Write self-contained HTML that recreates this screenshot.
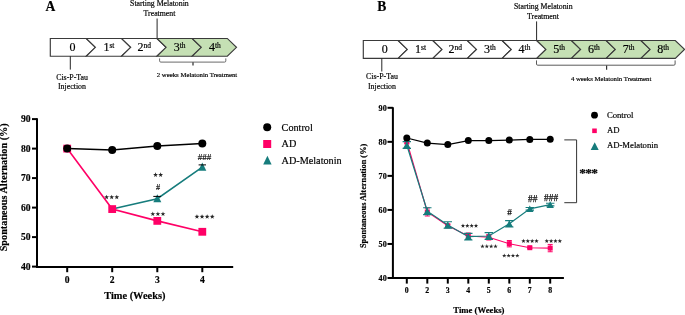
<!DOCTYPE html>
<html><head><meta charset="utf-8"><style>
html,body{margin:0;padding:0;background:#fff;}
body{width:685px;height:315px;overflow:hidden;}
svg{display:block;font-family:"Liberation Serif",serif;-webkit-font-smoothing:antialiased;}
body{will-change:transform;}
svg{opacity:0.999;}
.hs{stroke:#111;stroke-width:0.25px;}
text{stroke:#000;stroke-width:0.18px;}
</style></head><body>
<svg width="685" height="315" viewBox="0 0 685 315">
<text x="45.5" y="10.9" font-size="13.6" font-weight="bold">A</text>
<text x="159.4" y="5.8" font-size="7.8" text-anchor="middle">Starting Melatonin</text>
<text x="159.5" y="15.6" font-size="7.8" text-anchor="middle">Treatment</text>
<line x1="157.1" y1="18.5" x2="157.1" y2="38.5" stroke="#262626" stroke-width="1"/>
<polygon points="50.30,38.45 86.20,38.45 95.40,47.35 86.20,56.25 50.30,56.25" fill="#FFFFFF" stroke="#3a3a3a" stroke-width="1.15" stroke-linejoin="miter"/>
<polygon points="86.20,38.45 121.50,38.45 130.70,47.35 121.50,56.25 86.20,56.25 95.40,47.35" fill="#FFFFFF" stroke="#3a3a3a" stroke-width="1.15" stroke-linejoin="miter"/>
<polygon points="121.50,38.45 156.90,38.45 166.10,47.35 156.90,56.25 121.50,56.25 130.70,47.35" fill="#FFFFFF" stroke="#3a3a3a" stroke-width="1.15" stroke-linejoin="miter"/>
<polygon points="156.90,38.45 192.10,38.45 201.30,47.35 192.10,56.25 156.90,56.25 166.10,47.35" fill="#C5E0B4" stroke="#3a3a3a" stroke-width="1.15" stroke-linejoin="miter"/>
<polygon points="192.10,38.45 227.30,38.45 236.50,47.35 227.30,56.25 192.10,56.25 201.30,47.35" fill="#C5E0B4" stroke="#3a3a3a" stroke-width="1.15" stroke-linejoin="miter"/>
<text x="72.40" y="51.31" font-size="12" text-anchor="middle" class="tl">0</text>
<text x="108.95" y="51.31" font-size="12" text-anchor="middle" class="tl">1<tspan font-size="7.5" dy="-3.24">st</tspan></text>
<text x="144.30" y="51.31" font-size="12" text-anchor="middle" class="tl">2<tspan font-size="7.5" dy="-3.24">nd</tspan></text>
<text x="179.60" y="51.31" font-size="12" text-anchor="middle" class="tl">3<tspan font-size="7.5" dy="-3.24">th</tspan></text>
<text x="214.80" y="51.31" font-size="12" text-anchor="middle" class="tl">4<tspan font-size="7.5" dy="-3.24">th</tspan></text>
<line x1="70.3" y1="56.1" x2="70.3" y2="69.6" stroke="#262626" stroke-width="1"/>
<text x="72.1" y="79.8" font-size="7.9" text-anchor="middle">Cis-P-Tau</text>
<text x="72.0" y="89.3" font-size="7.9" text-anchor="middle">Injection</text>
<path d="M159.6,58.4 L159.6,60.9 Q159.6,62.1 160.8,62.1 L224.6,62.1 Q225.8,62.1 225.8,60.9 L225.8,58.4" fill="none" stroke="#6a6a6a" stroke-width="1"/>
<path d="M193,62.3 L193,65.6" fill="none" stroke="#3a3a3a" stroke-width="1.3"/>
<text x="197" y="77.3" font-size="6.75" text-anchor="middle">2 weeks Melatonin Treatment</text>
<text x="377.3" y="10.9" font-size="13.6" font-weight="bold">B</text>
<text x="543.3" y="8.9" font-size="7.8" text-anchor="middle">Starting Melatonin</text>
<text x="543.0" y="18.9" font-size="7.8" text-anchor="middle">Treatment</text>
<line x1="536.6" y1="21.4" x2="536.6" y2="40.5" stroke="#262626" stroke-width="1"/>
<polygon points="363.30,40.50 398.10,40.50 407.30,49.40 398.10,58.30 363.30,58.30" fill="#FFFFFF" stroke="#3a3a3a" stroke-width="1.15" stroke-linejoin="miter"/>
<polygon points="398.10,40.50 432.80,40.50 442.00,49.40 432.80,58.30 398.10,58.30 407.30,49.40" fill="#FFFFFF" stroke="#3a3a3a" stroke-width="1.15" stroke-linejoin="miter"/>
<polygon points="432.80,40.50 467.30,40.50 476.50,49.40 467.30,58.30 432.80,58.30 442.00,49.40" fill="#FFFFFF" stroke="#3a3a3a" stroke-width="1.15" stroke-linejoin="miter"/>
<polygon points="467.30,40.50 502.10,40.50 511.30,49.40 502.10,58.30 467.30,58.30 476.50,49.40" fill="#FFFFFF" stroke="#3a3a3a" stroke-width="1.15" stroke-linejoin="miter"/>
<polygon points="502.10,40.50 536.70,40.50 545.90,49.40 536.70,58.30 502.10,58.30 511.30,49.40" fill="#FFFFFF" stroke="#3a3a3a" stroke-width="1.15" stroke-linejoin="miter"/>
<polygon points="536.70,40.50 571.40,40.50 580.60,49.40 571.40,58.30 536.70,58.30 545.90,49.40" fill="#C5E0B4" stroke="#3a3a3a" stroke-width="1.15" stroke-linejoin="miter"/>
<polygon points="571.40,40.50 606.10,40.50 615.30,49.40 606.10,58.30 571.40,58.30 580.60,49.40" fill="#C5E0B4" stroke="#3a3a3a" stroke-width="1.15" stroke-linejoin="miter"/>
<polygon points="606.10,40.50 640.90,40.50 650.10,49.40 640.90,58.30 606.10,58.30 615.30,49.40" fill="#C5E0B4" stroke="#3a3a3a" stroke-width="1.15" stroke-linejoin="miter"/>
<polygon points="640.90,40.50 675.30,40.50 684.50,49.40 675.30,58.30 640.90,58.30 650.10,49.40" fill="#C5E0B4" stroke="#3a3a3a" stroke-width="1.15" stroke-linejoin="miter"/>
<text x="384.85" y="53.36" font-size="12" text-anchor="middle" class="tl">0</text>
<text x="420.55" y="53.36" font-size="12" text-anchor="middle" class="tl">1<tspan font-size="7.5" dy="-3.24">st</tspan></text>
<text x="455.15" y="53.36" font-size="12" text-anchor="middle" class="tl">2<tspan font-size="7.5" dy="-3.24">nd</tspan></text>
<text x="489.80" y="53.36" font-size="12" text-anchor="middle" class="tl">3<tspan font-size="7.5" dy="-3.24">th</tspan></text>
<text x="524.50" y="53.36" font-size="12" text-anchor="middle" class="tl">4<tspan font-size="7.5" dy="-3.24">th</tspan></text>
<text x="559.15" y="53.36" font-size="12" text-anchor="middle" class="tl">5<tspan font-size="7.5" dy="-3.24">th</tspan></text>
<text x="593.85" y="53.36" font-size="12" text-anchor="middle" class="tl">6<tspan font-size="7.5" dy="-3.24">th</tspan></text>
<text x="628.60" y="53.36" font-size="12" text-anchor="middle" class="tl">7<tspan font-size="7.5" dy="-3.24">th</tspan></text>
<text x="663.20" y="53.36" font-size="12" text-anchor="middle" class="tl">8<tspan font-size="7.5" dy="-3.24">th</tspan></text>
<line x1="381.8" y1="58.3" x2="381.8" y2="71.5" stroke="#262626" stroke-width="1"/>
<text x="382" y="79.4" font-size="7.9" text-anchor="middle">Cis-P-Tau</text>
<text x="382" y="88.8" font-size="7.9" text-anchor="middle">Injection</text>
<path d="M536.5,60.4 L536.5,64.0 Q536.5,65.2 537.7,65.2 L673.9,65.2 Q675.1,65.2 675.1,64.0 L675.1,60.4" fill="none" stroke="#5a5a5a" stroke-width="1"/>
<path d="M606.6,65.4 L606.6,69.8" fill="none" stroke="#333" stroke-width="1.2"/>
<text x="611.1" y="80.9" font-size="6.75" text-anchor="middle">4 weeks Melatonin Treatment</text>
<path d="M37,118.2 L37,266.9 L233.2,266.9" fill="none" stroke="#000" stroke-width="2"/>
<line x1="32" y1="266.60" x2="37" y2="266.60" stroke="#000" stroke-width="2"/>
<text x="30.5" y="269.90" font-size="9.6" font-weight="bold" text-anchor="end">40</text>
<line x1="32" y1="237.10" x2="37" y2="237.10" stroke="#000" stroke-width="2"/>
<text x="30.5" y="240.40" font-size="9.6" font-weight="bold" text-anchor="end">50</text>
<line x1="32" y1="207.60" x2="37" y2="207.60" stroke="#000" stroke-width="2"/>
<text x="30.5" y="210.90" font-size="9.6" font-weight="bold" text-anchor="end">60</text>
<line x1="32" y1="178.10" x2="37" y2="178.10" stroke="#000" stroke-width="2"/>
<text x="30.5" y="181.40" font-size="9.6" font-weight="bold" text-anchor="end">70</text>
<line x1="32" y1="148.60" x2="37" y2="148.60" stroke="#000" stroke-width="2"/>
<text x="30.5" y="151.90" font-size="9.6" font-weight="bold" text-anchor="end">80</text>
<line x1="32" y1="119.10" x2="37" y2="119.10" stroke="#000" stroke-width="2"/>
<text x="30.5" y="122.40" font-size="9.6" font-weight="bold" text-anchor="end">90</text>
<line x1="67.2" y1="266.9" x2="67.2" y2="272.2" stroke="#000" stroke-width="2"/>
<text x="67.2" y="282.5" font-size="9.6" font-weight="bold" text-anchor="middle">0</text>
<line x1="112.2" y1="266.9" x2="112.2" y2="272.2" stroke="#000" stroke-width="2"/>
<text x="112.2" y="282.5" font-size="9.6" font-weight="bold" text-anchor="middle">2</text>
<line x1="157.3" y1="266.9" x2="157.3" y2="272.2" stroke="#000" stroke-width="2"/>
<text x="157.3" y="282.5" font-size="9.6" font-weight="bold" text-anchor="middle">3</text>
<line x1="202.3" y1="266.9" x2="202.3" y2="272.2" stroke="#000" stroke-width="2"/>
<text x="202.3" y="282.5" font-size="9.6" font-weight="bold" text-anchor="middle">4</text>
<text x="134.8" y="298.9" font-size="10.4" font-weight="bold" text-anchor="middle">Time (Weeks)</text>
<text transform="translate(7.2,187.3) rotate(-90)" x="0" y="0" font-size="10.25" font-weight="bold" text-anchor="middle">Spontaneous Alternation (%)</text>
<polyline points="67.2,148.60 112.2,209.08 157.3,220.88 202.3,231.79" fill="none" stroke="#FF0066" stroke-width="1.6"/>
<polyline points="112.2,209.08 157.3,198.75 202.3,167.19" fill="none" stroke="#167C7C" stroke-width="1.6"/>
<polyline points="67.2,148.60 112.2,150.08 157.3,145.94 202.3,143.59" fill="none" stroke="#000" stroke-width="1.5"/>
<rect x="63.30" y="144.70" width="7.8" height="7.8" fill="#FF0066"/>
<rect x="108.30" y="205.18" width="7.8" height="7.8" fill="#FF0066"/>
<rect x="153.40" y="216.98" width="7.8" height="7.8" fill="#FF0066"/>
<rect x="198.40" y="227.89" width="7.8" height="7.8" fill="#FF0066"/>
<polygon points="153.30,202.35 161.30,202.35 157.30,194.15" fill="#167C7C"/>
<polygon points="198.30,170.78 206.30,170.78 202.30,162.59" fill="#167C7C"/>
<line x1="153.3" y1="196.4" x2="160.9" y2="196.4" stroke="#000" stroke-width="1"/>
<line x1="198.6" y1="164.9" x2="206" y2="164.9" stroke="#000" stroke-width="1"/>
<circle cx="67.20" cy="148.60" r="4" fill="#000"/>
<circle cx="112.20" cy="150.08" r="4" fill="#000"/>
<circle cx="157.30" cy="145.94" r="4" fill="#000"/>
<circle cx="202.30" cy="143.59" r="4" fill="#000"/>
<polygon points="106.60,194.65 107.20,196.37 109.03,196.41 107.57,197.52 108.10,199.26 106.60,198.22 105.10,199.26 105.63,197.52 104.17,196.41 106.00,196.37" fill="#262626"/>
<polygon points="111.70,194.65 112.30,196.37 114.13,196.41 112.67,197.52 113.20,199.26 111.70,198.22 110.20,199.26 110.73,197.52 109.27,196.41 111.10,196.37" fill="#262626"/>
<polygon points="116.80,194.65 117.40,196.37 119.23,196.41 117.77,197.52 118.30,199.26 116.80,198.22 115.30,199.26 115.83,197.52 114.37,196.41 116.20,196.37" fill="#262626"/>
<polygon points="155.55,172.35 156.15,174.07 157.98,174.11 156.52,175.22 157.05,176.96 155.55,175.92 154.05,176.96 154.58,175.22 153.12,174.11 154.95,174.07" fill="#262626"/>
<polygon points="160.65,172.35 161.25,174.07 163.08,174.11 161.62,175.22 162.15,176.96 160.65,175.92 159.15,176.96 159.68,175.22 158.22,174.11 160.05,174.07" fill="#262626"/>
<text x="158.0" y="190.4" font-size="8.2" text-anchor="middle" fill="#1a1a1a">#</text>
<polygon points="152.80,211.45 153.40,213.17 155.23,213.21 153.77,214.32 154.30,216.06 152.80,215.02 151.30,216.06 151.83,214.32 150.37,213.21 152.20,213.17" fill="#262626"/>
<polygon points="157.90,211.45 158.50,213.17 160.33,213.21 158.87,214.32 159.40,216.06 157.90,215.02 156.40,216.06 156.93,214.32 155.47,213.21 157.30,213.17" fill="#262626"/>
<polygon points="163.00,211.45 163.60,213.17 165.43,213.21 163.97,214.32 164.50,216.06 163.00,215.02 161.50,216.06 162.03,214.32 160.57,213.21 162.40,213.17" fill="#262626"/>
<text x="204.6" y="160" font-size="9" text-anchor="middle" fill="#1a1a1a">###</text>
<polygon points="196.95,214.15 197.55,215.87 199.38,215.91 197.92,217.02 198.45,218.76 196.95,217.72 195.45,218.76 195.98,217.02 194.52,215.91 196.35,215.87" fill="#262626"/>
<polygon points="202.05,214.15 202.65,215.87 204.48,215.91 203.02,217.02 203.55,218.76 202.05,217.72 200.55,218.76 201.08,217.02 199.62,215.91 201.45,215.87" fill="#262626"/>
<polygon points="207.15,214.15 207.75,215.87 209.58,215.91 208.12,217.02 208.65,218.76 207.15,217.72 205.65,218.76 206.18,217.02 204.72,215.91 206.55,215.87" fill="#262626"/>
<polygon points="212.25,214.15 212.85,215.87 214.68,215.91 213.22,217.02 213.75,218.76 212.25,217.72 210.75,218.76 211.28,217.02 209.82,215.91 211.65,215.87" fill="#262626"/>
<circle cx="267.20" cy="127.20" r="4" fill="#000"/>
<text x="281.6" y="130.7" font-size="10.2">Control</text>
<rect x="263.20" y="140.00" width="8" height="8" fill="#FF0066"/>
<text x="281.6" y="147.3" font-size="10.2">AD</text>
<polygon points="263.20,164.50 271.60,164.50 267.40,155.70" fill="#167C7C"/>
<text x="281.6" y="163.6" font-size="10.2">AD-Melatonin</text>
<path d="M392.9,107.2 L392.9,278 L563.9,278" fill="none" stroke="#000" stroke-width="2"/>
<line x1="387.5" y1="278.00" x2="392.9" y2="278.00" stroke="#000" stroke-width="2"/>
<text x="386.7" y="280.80" font-size="8.1" font-weight="bold" text-anchor="end">40</text>
<line x1="387.5" y1="243.96" x2="392.9" y2="243.96" stroke="#000" stroke-width="2"/>
<text x="386.7" y="246.76" font-size="8.1" font-weight="bold" text-anchor="end">50</text>
<line x1="387.5" y1="209.92" x2="392.9" y2="209.92" stroke="#000" stroke-width="2"/>
<text x="386.7" y="212.72" font-size="8.1" font-weight="bold" text-anchor="end">60</text>
<line x1="387.5" y1="175.88" x2="392.9" y2="175.88" stroke="#000" stroke-width="2"/>
<text x="386.7" y="178.68" font-size="8.1" font-weight="bold" text-anchor="end">70</text>
<line x1="387.5" y1="141.84" x2="392.9" y2="141.84" stroke="#000" stroke-width="2"/>
<text x="386.7" y="144.64" font-size="8.1" font-weight="bold" text-anchor="end">80</text>
<line x1="387.5" y1="107.80" x2="392.9" y2="107.80" stroke="#000" stroke-width="2"/>
<text x="386.7" y="110.60" font-size="8.1" font-weight="bold" text-anchor="end">90</text>
<line x1="406.8" y1="278" x2="406.8" y2="283.6" stroke="#000" stroke-width="2"/>
<text x="406.8" y="292.7" font-size="7.8" font-weight="bold" text-anchor="middle">0</text>
<line x1="427.3" y1="278" x2="427.3" y2="283.6" stroke="#000" stroke-width="2"/>
<text x="427.3" y="292.7" font-size="7.8" font-weight="bold" text-anchor="middle">2</text>
<line x1="447.8" y1="278" x2="447.8" y2="283.6" stroke="#000" stroke-width="2"/>
<text x="447.8" y="292.7" font-size="7.8" font-weight="bold" text-anchor="middle">3</text>
<line x1="468.3" y1="278" x2="468.3" y2="283.6" stroke="#000" stroke-width="2"/>
<text x="468.3" y="292.7" font-size="7.8" font-weight="bold" text-anchor="middle">4</text>
<line x1="488.8" y1="278" x2="488.8" y2="283.6" stroke="#000" stroke-width="2"/>
<text x="488.8" y="292.7" font-size="7.8" font-weight="bold" text-anchor="middle">5</text>
<line x1="509.3" y1="278" x2="509.3" y2="283.6" stroke="#000" stroke-width="2"/>
<text x="509.3" y="292.7" font-size="7.8" font-weight="bold" text-anchor="middle">6</text>
<line x1="529.8" y1="278" x2="529.8" y2="283.6" stroke="#000" stroke-width="2"/>
<text x="529.8" y="292.7" font-size="7.8" font-weight="bold" text-anchor="middle">7</text>
<line x1="550.2" y1="278" x2="550.2" y2="283.6" stroke="#000" stroke-width="2"/>
<text x="550.2" y="292.7" font-size="7.8" font-weight="bold" text-anchor="middle">8</text>
<text x="478.9" y="312.7" font-size="8.7" font-weight="bold" text-anchor="middle">Time (Weeks)</text>
<text transform="translate(366,195.9) rotate(-90)" x="0" y="0" font-size="8.36" font-weight="bold" text-anchor="middle">Spontaneous Alternation (%)</text>
<polyline points="406.8,141.50 427.3,212.00 447.8,225.80 468.3,236.00 488.8,237.30 509.3,243.70 529.8,247.70 550.2,248.10" fill="none" stroke="#FF0066" stroke-width="1.15"/>
<path d="M406.8,139.00 L406.8,144.00 M404.3,139.00 L409.3,139.00 M404.3,144.00 L409.3,144.00" stroke="#FF0066" stroke-width="1" fill="none"/>
<rect x="404.30" y="139.00" width="5.0" height="5.0" fill="#FF0066"/>
<path d="M427.3,208.00 L427.3,216.00 M424.8,208.00 L429.8,208.00 M424.8,216.00 L429.8,216.00" stroke="#FF0066" stroke-width="1" fill="none"/>
<rect x="424.80" y="209.50" width="5.0" height="5.0" fill="#FF0066"/>
<path d="M447.8,224.30 L447.8,227.30 M445.3,224.30 L450.3,224.30 M445.3,227.30 L450.3,227.30" stroke="#FF0066" stroke-width="1" fill="none"/>
<rect x="445.30" y="223.30" width="5.0" height="5.0" fill="#FF0066"/>
<path d="M468.3,233.00 L468.3,239.00 M465.8,233.00 L470.8,233.00 M465.8,239.00 L470.8,239.00" stroke="#FF0066" stroke-width="1" fill="none"/>
<rect x="465.80" y="233.50" width="5.0" height="5.0" fill="#FF0066"/>
<path d="M488.8,234.60 L488.8,240.00 M486.3,234.60 L491.3,234.60 M486.3,240.00 L491.3,240.00" stroke="#FF0066" stroke-width="1" fill="none"/>
<rect x="486.30" y="234.80" width="5.0" height="5.0" fill="#FF0066"/>
<path d="M509.3,240.50 L509.3,246.90 M506.8,240.50 L511.8,240.50 M506.8,246.90 L511.8,246.90" stroke="#FF0066" stroke-width="1" fill="none"/>
<rect x="506.80" y="241.20" width="5.0" height="5.0" fill="#FF0066"/>
<path d="M529.8,246.90 L529.8,248.50 M527.3,246.90 L532.3,246.90 M527.3,248.50 L532.3,248.50" stroke="#FF0066" stroke-width="1" fill="none"/>
<rect x="527.30" y="245.20" width="5.0" height="5.0" fill="#FF0066"/>
<path d="M550.2,244.45 L550.2,251.75 M547.7,244.45 L552.7,244.45 M547.7,251.75 L552.7,251.75" stroke="#FF0066" stroke-width="1" fill="none"/>
<rect x="547.70" y="245.60" width="5.0" height="5.0" fill="#FF0066"/>
<polyline points="406.8,145.00 427.3,211.20 447.8,225.00 468.3,236.70 488.8,236.00 509.3,223.80 529.8,208.80 550.2,204.60" fill="none" stroke="#167C7C" stroke-width="1.25"/>
<polygon points="403.10,148.30 410.50,148.30 406.80,141.70" fill="#167C7C"/>
<path d="M406.8,141.60 L406.8,148.40 M402.60,141.60 L411.00,141.60 M402.60,148.40 L411.00,148.40" stroke="#167C7C" stroke-width="1.1" fill="none"/>
<polygon points="423.60,214.50 431.00,214.50 427.30,207.90" fill="#167C7C"/>
<path d="M427.3,207.80 L427.3,214.60 M423.10,207.80 L431.50,207.80 M423.10,214.60 L431.50,214.60" stroke="#167C7C" stroke-width="1.1" fill="none"/>
<polygon points="444.10,228.30 451.50,228.30 447.80,221.70" fill="#167C7C"/>
<path d="M447.8,221.70 L447.8,228.30 M443.60,221.70 L452.00,221.70 M443.60,228.30 L452.00,228.30" stroke="#167C7C" stroke-width="1.1" fill="none"/>
<polygon points="464.60,240.00 472.00,240.00 468.30,233.40" fill="#167C7C"/>
<path d="M468.3,233.40 L468.3,240.00 M464.10,233.40 L472.50,233.40 M464.10,240.00 L472.50,240.00" stroke="#167C7C" stroke-width="1.1" fill="none"/>
<polygon points="485.10,239.30 492.50,239.30 488.80,232.70" fill="#167C7C"/>
<path d="M488.8,232.60 L488.8,239.40 M484.60,232.60 L493.00,232.60 M484.60,239.40 L493.00,239.40" stroke="#167C7C" stroke-width="1.1" fill="none"/>
<polygon points="505.60,227.10 513.00,227.10 509.30,220.50" fill="#167C7C"/>
<path d="M509.3,220.60 L509.3,227.00 M505.10,220.60 L513.50,220.60 M505.10,227.00 L513.50,227.00" stroke="#167C7C" stroke-width="1.1" fill="none"/>
<polygon points="526.10,212.10 533.50,212.10 529.80,205.50" fill="#167C7C"/>
<path d="M529.8,207.50 L529.8,210.10 M525.60,207.50 L534.00,207.50 M525.60,210.10 L534.00,210.10" stroke="#167C7C" stroke-width="1.1" fill="none"/>
<polygon points="546.50,207.90 553.90,207.90 550.20,201.30" fill="#167C7C"/>
<path d="M550.2,203.30 L550.2,205.90 M546.00,203.30 L554.40,203.30 M546.00,205.90 L554.40,205.90" stroke="#167C7C" stroke-width="1.1" fill="none"/>
<polyline points="406.8,138.00 427.3,143.10 447.8,144.60 468.3,140.60 488.8,140.60 509.3,140.10 529.8,139.40 550.2,139.30" fill="none" stroke="#000" stroke-width="1.25"/>
<circle cx="406.80" cy="138.00" r="3.5" fill="#000"/>
<circle cx="427.30" cy="143.10" r="3.5" fill="#000"/>
<circle cx="447.80" cy="144.60" r="3.5" fill="#000"/>
<circle cx="468.30" cy="140.60" r="3.5" fill="#000"/>
<circle cx="488.80" cy="140.60" r="3.5" fill="#000"/>
<circle cx="509.30" cy="140.10" r="3.5" fill="#000"/>
<circle cx="529.80" cy="139.40" r="3.5" fill="#000"/>
<circle cx="550.20" cy="139.30" r="3.5" fill="#000"/>
<polygon points="462.98,223.50 463.52,225.06 465.16,225.09 463.85,226.08 464.33,227.66 462.98,226.72 461.62,227.66 462.10,226.08 460.79,225.09 462.43,225.06" fill="#262626"/>
<polygon points="467.33,223.50 467.87,225.06 469.51,225.09 468.20,226.08 468.68,227.66 467.33,226.72 465.97,227.66 466.45,226.08 465.14,225.09 466.78,225.06" fill="#262626"/>
<polygon points="471.68,223.50 472.22,225.06 473.86,225.09 472.55,226.08 473.03,227.66 471.68,226.72 470.32,227.66 470.80,226.08 469.49,225.09 471.13,225.06" fill="#262626"/>
<polygon points="476.03,223.50 476.57,225.06 478.21,225.09 476.90,226.08 477.38,227.66 476.03,226.72 474.67,227.66 475.15,226.08 473.84,225.09 475.48,225.06" fill="#262626"/>
<polygon points="482.48,244.10 483.02,245.66 484.66,245.69 483.35,246.68 483.83,248.26 482.48,247.32 481.12,248.26 481.60,246.68 480.29,245.69 481.93,245.66" fill="#262626"/>
<polygon points="486.83,244.10 487.37,245.66 489.01,245.69 487.70,246.68 488.18,248.26 486.83,247.32 485.47,248.26 485.95,246.68 484.64,245.69 486.28,245.66" fill="#262626"/>
<polygon points="491.18,244.10 491.72,245.66 493.36,245.69 492.05,246.68 492.53,248.26 491.18,247.32 489.82,248.26 490.30,246.68 488.99,245.69 490.63,245.66" fill="#262626"/>
<polygon points="495.53,244.10 496.07,245.66 497.71,245.69 496.40,246.68 496.88,248.26 495.53,247.32 494.17,248.26 494.65,246.68 493.34,245.69 494.98,245.66" fill="#262626"/>
<polygon points="504.28,253.40 504.82,254.96 506.46,254.99 505.15,255.98 505.63,257.56 504.28,256.62 502.92,257.56 503.40,255.98 502.09,254.99 503.73,254.96" fill="#262626"/>
<polygon points="508.63,253.40 509.17,254.96 510.81,254.99 509.50,255.98 509.98,257.56 508.63,256.62 507.27,257.56 507.75,255.98 506.44,254.99 508.08,254.96" fill="#262626"/>
<polygon points="512.98,253.40 513.52,254.96 515.16,254.99 513.85,255.98 514.33,257.56 512.98,256.62 511.62,257.56 512.10,255.98 510.79,254.99 512.43,254.96" fill="#262626"/>
<polygon points="517.33,253.40 517.87,254.96 519.51,254.99 518.20,255.98 518.68,257.56 517.33,256.62 515.97,257.56 516.45,255.98 515.14,254.99 516.78,254.96" fill="#262626"/>
<polygon points="523.48,238.80 524.02,240.36 525.66,240.39 524.35,241.38 524.83,242.96 523.48,242.02 522.12,242.96 522.60,241.38 521.29,240.39 522.93,240.36" fill="#262626"/>
<polygon points="527.83,238.80 528.37,240.36 530.01,240.39 528.70,241.38 529.18,242.96 527.83,242.02 526.47,242.96 526.95,241.38 525.64,240.39 527.28,240.36" fill="#262626"/>
<polygon points="532.18,238.80 532.72,240.36 534.36,240.39 533.05,241.38 533.53,242.96 532.18,242.02 530.82,242.96 531.30,241.38 529.99,240.39 531.63,240.36" fill="#262626"/>
<polygon points="536.52,238.80 537.07,240.36 538.71,240.39 537.40,241.38 537.88,242.96 536.52,242.02 535.17,242.96 535.65,241.38 534.34,240.39 535.98,240.36" fill="#262626"/>
<polygon points="546.77,238.80 547.32,240.36 548.96,240.39 547.65,241.38 548.13,242.96 546.77,242.02 545.42,242.96 545.90,241.38 544.59,240.39 546.23,240.36" fill="#262626"/>
<polygon points="551.12,238.80 551.67,240.36 553.31,240.39 552.00,241.38 552.48,242.96 551.12,242.02 549.77,242.96 550.25,241.38 548.94,240.39 550.58,240.36" fill="#262626"/>
<polygon points="555.48,238.80 556.02,240.36 557.66,240.39 556.35,241.38 556.83,242.96 555.48,242.02 554.12,242.96 554.60,241.38 553.29,240.39 554.93,240.36" fill="#262626"/>
<polygon points="559.82,238.80 560.37,240.36 562.01,240.39 560.70,241.38 561.18,242.96 559.82,242.02 558.47,242.96 558.95,241.38 557.64,240.39 559.28,240.36" fill="#262626"/>
<text x="509.5" y="214.5" font-size="9.2" text-anchor="middle" fill="#111" class="hs">#</text>
<text x="532.7" y="201.6" font-size="9.3" text-anchor="middle" fill="#111" class="hs">##</text>
<text x="551.1" y="200.8" font-size="9.3" text-anchor="middle" fill="#111" class="hs">###</text>
<path d="M564.3,139.9 L576.6,139.9 L576.6,202.7 L564.3,202.7" fill="none" stroke="#333" stroke-width="1"/>
<text x="579.3" y="177.2" font-size="13.5" font-weight="bold" letter-spacing="-0.75" stroke="#000" stroke-width="0.15">***</text>
<circle cx="594.50" cy="115.20" r="3.4" fill="#000"/>
<text x="606.9" y="117.6" font-size="8.7">Control</text>
<rect x="592.20" y="128.50" width="4.6" height="4.6" fill="#FF0066"/>
<text x="606.9" y="132.9" font-size="8.7">AD</text>
<polygon points="590.70,149.90 598.70,149.90 594.70,142.30" fill="#167C7C"/>
<text x="606.9" y="148.2" font-size="8.7">AD-Melatonin</text>
</svg>
</body></html>
